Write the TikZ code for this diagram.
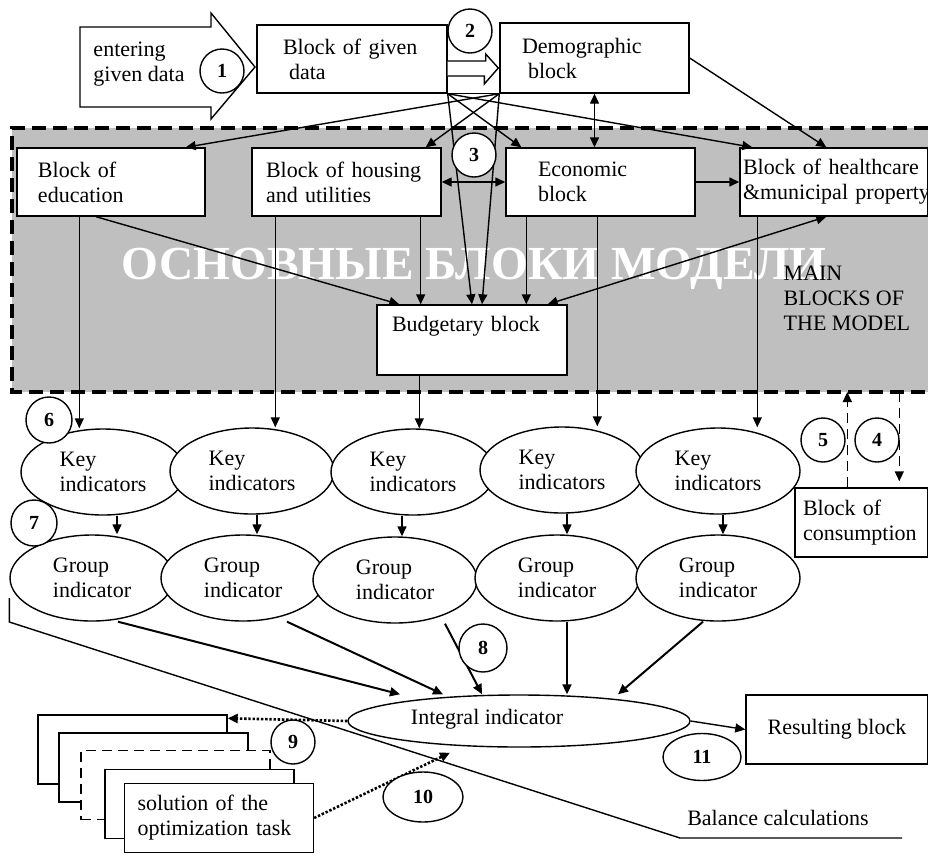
\documentclass[tikz,border=0pt]{standalone}
\usepackage{fontspec}
\setmainfont{Liberation Serif}
\usetikzlibrary{shapes.geometric}
\usetikzlibrary{arrows.meta}
\usetikzlibrary{calc}

\definecolor{mainbg}{gray}{0.75}

\tikzset{
	box/.style={draw, fill=white, align=left, minimum height=34pt, inner ysep=0pt},
	oval/.style={draw, fill=white, ellipse, align=left, minimum width=82pt, minimum height=43pt, inner sep=0pt},
	num/.style={draw, fill=white, circle, inner sep=0pt, minimum size=22pt, font=\fontsize{10}{12}\selectfont\bfseries},
	arr/.style={-{Triangle[length=5pt,width=4.5pt]}},
	darr/.style={{Triangle[length=5pt,width=4.5pt]}-{Triangle[length=5pt,width=4.5pt]}},
	dots/.style={dash pattern=on 1.2pt off 0.9pt, line width=1.3pt},
	dsh/.style={dash pattern=on 5pt off 3pt},
}

\begin{document}
\begin{tikzpicture}[x=0.5pt, y=-0.5pt, line width=0.7pt, font=\fontsize{11}{12.5}\selectfont]
	\useasboundingbox (0,0) rectangle (928,853);

	% main blocks area
	\fill[mainbg] (12,128) rectangle (928,392);
	\draw[line width=1.6pt, dash pattern=on 7pt off 3.5pt] (928,128) -- (12,128) -- (12,392) -- (928,392);
	\coordinate (mainbot) at (12,392);
	\node[text=white, font=\fontsize{23.7}{28}\selectfont\bfseries] (watermark) at (474,269) {ОСНОВНЫЕ БЛОКИ МОДЕЛИ};
	\node[align=left, anchor=west, inner sep=0pt] (mainlbl) at (783,298) {MAIN\\BLOCKS OF\\THE MODEL};

	% input data
	\draw[fill=white] (80,27) -- (211,27) -- (211,13) -- (255,67) -- (211,119) -- (211,107) -- (80,107) -- cycle;
	\node[align=left] (enter) at (139,64) {entering\\given data};

	\node[box, text width=69pt, inner xsep=13pt] (given) at (352,59) {Block of given\\ \hspace*{3pt}data};
	\node[box, text width=72.5pt, inner xsep=11pt, minimum height=35pt] (demo) at (594.5,58) {Demographic\\ \hspace*{3pt}block};
	\draw[fill=white] ($(given.east)+(0,2)$) -- ++(38,0) -- ++(0,-7) -- ($(demo.west)+(-1,10)$) -- ++(-14,16) -- ++(0,-8) -- ($(given.east)+(0,17)$);

	\node[box, text width=73pt, inner xsep=10.5pt] (educ) at (111,182) {Block of\\education};
	\node[box, text width=80.5pt, inner xsep=7pt] (housing) at (346.5,182) {Block of housing\\and utilities};
	\node[box, text width=62.5pt, inner xsep=16pt] (econ) at (600.5,182) {Economic\\block};
	\node[box, text width=91pt, inner xsep=1.5pt] (health) at (834,182) {Block of healthcare\\\mbox{\&municipal property}};
	\node[box, text width=80pt, inner xsep=7.5pt, minimum height=35pt] (budget) at (472,340) {Budgetary block\\\strut};

	% key indicators
	\node[oval] (key1) at (103,472) {Key\\indicators};
	\node[oval] (key2) at (252,471) {Key\\indicators};
	\node[oval] (key3) at (413,472) {Key\\indicators};
	\node[oval] (key4) at (562,470) {Key\\indicators};
	\node[oval] (key5) at (718,471) {Key\\indicators};

	% group indicators
	\node[oval] (group1) at (92,578) {Group\\indicator};
	\node[oval] (group2) at (243,578) {Group\\indicator};
	\node[oval] (group3) at (395,580) {Group\\indicator};
	\node[oval] (group4) at (557,578) {Group\\indicator};
	\node[oval] (group5) at (718,578) {Group\\indicator};

	\node[box, text width=58.5pt, inner xsep=4pt, minimum height=34.5pt] (cons) at (861.5,522.5) {Block of\\consumption};

	\node[draw, fill=white, ellipse, minimum width=171pt, minimum height=26pt, inner sep=0pt] (integral) at (519,721) {};
	\node (integraltxt) at (487,719) {Integral indicator};
	\node[box, align=center, minimum width=91pt, minimum height=34.5pt] (result) at (837,729.5) {Resulting block};

	% optimization variants
	\node[box, minimum width=94.5pt, minimum height=34.5pt] (stack1) at (132.5,749.5) {};
	\node[box, minimum width=94.5pt, minimum height=34.5pt] (stack2) at (153.5,767.5) {};
	\node[box, dsh, minimum width=94.5pt, minimum height=34.5pt] (stack3) at (175.5,785) {};
	\node[box, minimum width=94.5pt, minimum height=34.5pt] (stack4) at (199.5,804) {};
	\node[box, text width=81.5pt, inner xsep=6.5pt, minimum height=34.5pt] (stack5) at (219,818) {solution of the\\optimization task};

	\node (balance) at (778,818) {Balance calculations};

	% from the given data
	\draw (given.south east) -- (demo.south west);
	\draw[arr] (given.south east) -- ($(econ.north west)+(16,0)$);
	\draw[arr] (given.south east) -- ($(health.north west)+(13,0)$);
	\draw[arr] (given.south east) -- (budget.north);
	\draw[arr] (demo.south west) -- ($(educ.north east)+(-20,0)$);
	\draw[arr] (demo.south west) -- ($(housing.north east)+(-16,0)$);
	\draw[arr] (demo.south west) -- ($(budget.north)+(10,0)$);
	\draw[arr] (demo.east) -- ($(health.north west)+(87,0)$);
	\draw[darr] (demo.south) -- (demo.south |- econ.north);
	\draw[darr] (housing.east) -- (econ.west);
	\draw[arr] (econ.east) -- (health.west);

	% budgetary block
	\draw[arr] ($(educ.south)+(-15,0)$) -- ($(budget.north west)+(23,0)$);
	\draw[arr] ($(housing.south east)+(-21,0)$) coordinate (h1) -- (h1 |- budget.north);
	\draw[arr] ($(econ.south west)+(21,0)$) coordinate (e1) -- (e1 |- budget.north);
	\draw[darr] ($(budget.north east)+(-20,0)$) -- ($(health.south west)+(87,0)$);

	% down to the indicators
	\draw[arr] ($(educ.south west)+(63,0)$) coordinate (d1) -- (d1 |- key1.north);
	\draw[arr] ($(housing.south west)+(24,0)$) coordinate (d2) -- (d2 |- key2.north);
	\draw[arr] ($(budget.south west)+(43,0)$) coordinate (d3) -- (d3 |- key3.north);
	\draw[arr] ($(econ.south west)+(92,0)$) coordinate (d4) -- (d4 |- key4.north);
	\draw[arr] ($(health.south west)+(18,0)$) coordinate (d5) -- (d5 |- key5.north);

	\draw[arr] ($(key1.south)+(14,0)$) coordinate (k1) -- (k1 |- group1.north);
	\draw[arr] ($(key2.south)+(5,0)$) coordinate (k2) -- (k2 |- group2.north);
	\draw[arr] ($(key3.south)+(-11,0)$) coordinate (k3) -- (k3 |- group3.north);
	\draw[arr] ($(key4.south)+(5,0)$) coordinate (k4) -- (k4 |- group4.north);
	\draw[arr] ($(key5.south)+(5,0)$) coordinate (k5) -- (k5 |- group5.north);

	\draw[arr, line width=1pt] ($(group1.south)+(26,0)$) -- ($(integral.north)+(-119,0)$);
	\draw[arr, line width=1pt] ($(group2.south)+(44,0)$) -- ($(integral.north)+(-76,0)$);
	\draw[arr, line width=1pt] ($(group3.south)+(50,0)$) -- ($(integral.north)+(-37,0)$);
	\draw[arr, line width=1pt] ($(group4.south)+(10,0)$) -- ($(integral.north)+(48,0)$);
	\draw[arr, line width=1pt] ($(group5.south)+(-15,0)$) -- ($(integral.north)+(99,0)$);

	\draw[arr] (integral.east) -- (result.west);
	\draw[arr, dots] (integral.west) -- ($(stack1.north east)+(0,4)$);
	\draw[arr, dots] (stack5.east) -- ($(integral.south)+(-69,5)$);

	% consumption
	\draw[arr, dsh] ($(cons.north west)+(53,0)$) coordinate (u1) -- (u1 |- mainbot);
	\coordinate (u2) at ($(cons.north west)+(105,0)$);
	\draw[arr, dsh, shorten >=3pt] (u2 |- mainbot) -- (u2);

	% balance line
	\draw ($(group1.west)+(0,20)$) -- ++(0,24) -- (680,838) -- (902,838);

	% numbers
	\node[num, fill=none] (n1) at (222,71) {1};
	\node[num] (n2) at (470,31) {2};
	\node[num] (n3) at (474,155) {3};
	\node[num] (n4) at (877,440) {4};
	\node[num] (n5) at (823,440) {5};
	\node[num, minimum size=23pt] (n6) at (49,420) {6};
	\node[num, minimum size=23pt] (n7) at (34,523) {7};
	\node[num, minimum size=24pt] (n8) at (483,648) {8};
	\node[num] (n9) at (293,742) {9};
	\node[num, ellipse, minimum width=40pt, minimum height=25pt] (n10) at (423,797) {10};
	\node[num, ellipse, minimum width=39pt, minimum height=23.5pt] (n11) at (702,757) {11};
\end{tikzpicture}
\end{document}
